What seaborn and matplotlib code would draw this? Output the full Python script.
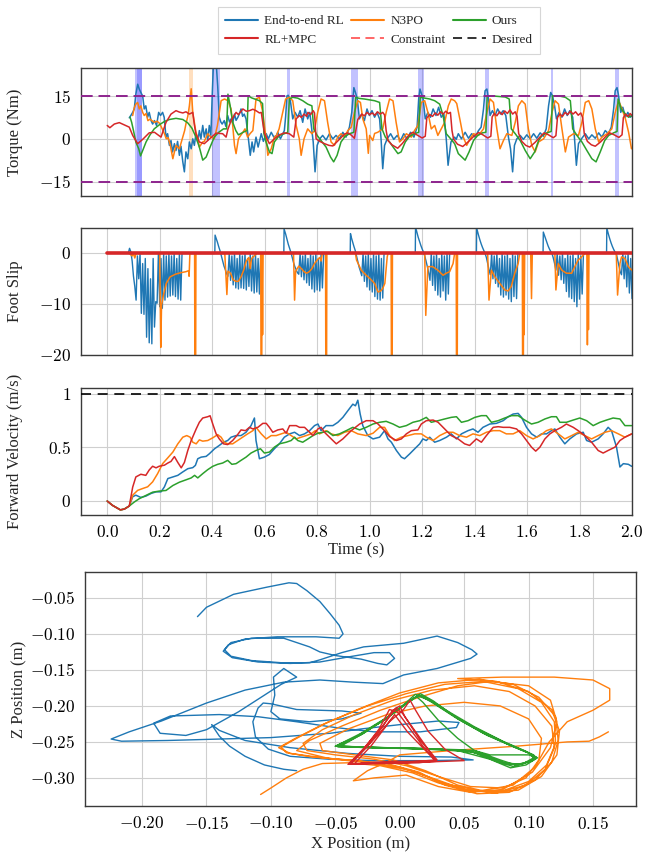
import numpy as np
import matplotlib
matplotlib.use("Agg")
import matplotlib.pyplot as plt
import seaborn as sns
from matplotlib.lines import Line2D
from matplotlib.ticker import FuncFormatter, FixedLocator

# ---------------------------------------------------------------- colours
C_E2E = "#1f77b4"
C_N3PO = "#ff7f0e"
C_OURS = "#2ca02c"
C_MPC = "#d62728"
C_LIMIT = "#8e248e"

series_names = ["End-to-end RL", "RL+MPC", "N3PO", "Constraint", "Ours", "Desired"]

# ---------------------------------------------------------------- torque (Nm) : (time s, torque)
torque_limit = 15.0

torque_e2e = [
    (0.084, 7.5), (0.09, 8.3), (0.097, 9.4), (0.103, 10.6), (0.109, 15.8), (0.116, 19.3), (0.122, 17.6),
    (0.128, 16.4), (0.135, 15.2), (0.141, 10.6), (0.147, 11.7), (0.154, 7.7), (0.16, 9.4), (0.167, 6.5),
    (0.173, 5.3), (0.18, 6.5), (0.188, 4.8), (0.196, 9.4), (0.203, 8.3), (0.211, 9.4), (0.217, 7.7),
    (0.224, 0.7), (0.23, 1.9), (0.237, -2.2), (0.243, -0.5), (0.249, -4.5), (0.256, -1.6), (0.262, -4.0),
    (0.268, -0.8), (0.275, -5.7), (0.281, -2.5), (0.288, -8.0), (0.294, -11.5), (0.30, -4.5), (0.307, -6.9),
    (0.313, -1.0), (0.32, -3.4), (0.326, 0.1), (0.332, -2.2), (0.338, 1.9), (0.345, -1.0), (0.351, 3.0),
    (0.357, 0.1), (0.364, 4.8), (0.37, 0.7), (0.377, 3.6), (0.383, -0.5), (0.389, 4.8), (0.395, 1.3),
    (0.40, 15.2), (0.405, 27.0), (0.415, 27.0), (0.421, 18.7), (0.427, 7.7), (0.433, 6.0), (0.438, 5.3),
    (0.446, 6.5), (0.452, 4.5), (0.459, 8.3), (0.466, 6.0), (0.472, 7.1), (0.478, 5.6), (0.485, 8.8),
    (0.491, 6.6), (0.498, 7.7), (0.504, 9.0), (0.51, 10.6), (0.516, 8.0), (0.522, 8.8), (0.529, 7.1),
    (0.538, 0.1), (0.545, -5.7), (0.552, -1.0), (0.558, -4.5), (0.567, 0.7), (0.575, -2.8), (0.587, 1.9),
    (0.595, -0.8), (0.606, 1.9), (0.614, 0.1), (0.625, 2.4), (0.635, 0.7), (0.645, 1.3), (0.65, 2.4),
    (0.66, 0.1), (0.675, 3.0), (0.68, 8.0), (0.685, 15.2), (0.69, 15.4), (0.698, 13.5), (0.707, 7.1),
    (0.716, 9.4), (0.726, 7.7), (0.735, 10.0), (0.745, 5.9), (0.754, 10.6), (0.764, 7.1), (0.772, 9.4),
    (0.78, 3.0), (0.785, -1.0), (0.792, -11.5), (0.80, -2.2), (0.81, 0.1), (0.821, 1.3), (0.834, -0.3),
    (0.847, 1.9), (0.86, 0.1), (0.872, 1.3), (0.885, 0.1), (0.898, 2.4), (0.91, 0.7), (0.923, 4.2),
    (0.932, 9.4), (0.94, 18.1), (0.946, 16.4), (0.953, 14.1), (0.961, 7.1), (0.97, 8.8), (0.98, 6.5),
    (0.99, 10.6), (0.999, 8.3), (1.009, 10.0), (1.019, 7.7), (1.028, 9.4), (1.038, 7.1), (1.044, -0.5),
    (1.05, -10.4), (1.057, -2.2), (1.067, 0.1), (1.08, 1.9), (1.092, -0.1), (1.105, 1.3), (1.118, -0.5),
    (1.13, 1.9), (1.143, 0.1), (1.156, 2.4), (1.169, 0.7), (1.181, 4.2), (1.187, 14.1), (1.192, 17.6),
    (1.198, 15.8), (1.204, 14.1), (1.212, 7.1), (1.222, 9.4), (1.232, 7.7), (1.242, 10.6), (1.253, 8.3),
    (1.263, 11.2), (1.273, 7.7), (1.283, 8.8), (1.292, 0.1), (1.299, -9.2), (1.31, -1.0), (1.324, 0.7),
    (1.33, -0.1), (1.338, 1.9), (1.35, 0.1), (1.364, 2.4), (1.377, 0.3), (1.389, 1.9), (1.402, 0.7),
    (1.415, 3.0), (1.425, 4.2), (1.434, 10.6), (1.44, 17.0), (1.447, 17.6), (1.453, 14.1), (1.459, 8.3),
    (1.468, 10.0), (1.478, 8.3), (1.488, 10.6), (1.499, 8.8), (1.509, 10.0), (1.519, 8.3), (1.529, 0.7),
    (1.537, -3.4), (1.545, -11.5), (1.552, -2.2), (1.561, 0.1), (1.574, 1.3), (1.586, -0.1), (1.599, 1.5),
    (1.612, 0.1), (1.625, 1.9), (1.637, 0.3), (1.65, 2.2), (1.662, 1.0), (1.673, 3.6), (1.682, 11.7),
    (1.69, 16.4), (1.697, 15.2), (1.705, 11.7), (1.712, 7.1), (1.722, 9.4), (1.733, 7.7), (1.743, 10.6),
    (1.753, 8.3), (1.763, 10.0), (1.774, 7.7), (1.781, 0.1), (1.788, -9.2), (1.796, -1.6), (1.809, 0.3),
    (1.822, 1.9), (1.835, 0.1), (1.847, 1.5), (1.86, 0.3), (1.873, 2.2), (1.885, 0.7), (1.898, 3.0),
    (1.91, 1.9), (1.921, 4.2), (1.93, 10.6), (1.936, 17.0), (1.943, 18.1), (1.949, 15.2), (1.957, 9.4),
    (1.965, 11.2), (1.975, 7.7), (1.984, 9.4), (1.994, 7.7), (2.0, 8.3),
]

torque_n3po = [
    (0.097, 8.3), (0.103, 11.0), (0.109, 12.3), (0.116, 12.9), (0.122, 10.6), (0.128, 11.7), (0.135, 9.4),
    (0.141, 8.3), (0.148, 9.0), (0.155, 6.5), (0.163, 7.0), (0.17, 6.5), (0.18, 5.9), (0.19, 6.3),
    (0.2, 5.5), (0.21, 3.5), (0.218, 1.9), (0.225, 0.1), (0.232, 0.5), (0.24, -2.0), (0.25, -6.9),
    (0.262, -2.2), (0.275, -3.4), (0.288, 0.7), (0.295, 3.0), (0.30, 5.4), (0.307, 8.0), (0.313, 11.7),
    (0.32, 17.7), (0.326, 9.4), (0.332, 5.9), (0.338, 2.4), (0.345, 0.5), (0.351, -2.8), (0.364, -1.0),
    (0.37, -0.8), (0.383, 1.9), (0.395, 0.7), (0.408, 0.1), (0.42, 4.8), (0.434, 13.5), (0.447, 14.1),
    (0.46, 13.5), (0.472, 10.6), (0.478, 5.0), (0.485, -2.2), (0.491, -5.1), (0.50, 0.1), (0.51, 1.5),
    (0.517, 2.4), (0.525, 3.6), (0.535, 0.7), (0.545, 2.0), (0.555, 3.0), (0.567, 14.1), (0.58, 14.7),
    (0.593, 9.4), (0.6, 4.0), (0.606, 0.1), (0.612, -5.7), (0.625, -3.4), (0.637, 0.7), (0.645, 1.3),
    (0.655, 3.6), (0.669, 9.4), (0.68, 14.1), (0.694, 14.7), (0.707, 13.5), (0.72, 4.8), (0.732, 0.1),
    (0.739, -5.7), (0.75, 0.1), (0.764, 3.6), (0.78, 1.9), (0.79, 3.0), (0.802, 9.4), (0.815, 14.1),
    (0.828, 13.5), (0.84, 5.9), (0.853, -1.0), (0.866, -2.2), (0.878, 0.7), (0.891, 1.9), (0.904, 0.7),
    (0.917, 3.0), (0.93, 4.2), (0.942, 9.4), (0.955, 13.5), (0.965, 12.9), (0.974, 7.1), (0.987, 3.6),
    (0.995, -5.0), (1.0, 1.3), (1.012, -0.5), (1.019, 2.0), (1.031, 2.4), (1.05, 3.6), (1.063, 9.4),
    (1.076, 14.1), (1.089, 13.5), (1.101, 5.9), (1.114, -1.0), (1.127, 0.1), (1.14, 1.9), (1.159, 0.7),
    (1.171, 3.0), (1.184, 4.8), (1.197, 12.9), (1.21, 13.5), (1.222, 9.4), (1.235, 3.6), (1.248, 4.8),
    (1.26, 1.3), (1.273, 3.6), (1.286, 5.9), (1.3, 11.7), (1.311, 14.1), (1.324, 13.5), (1.332, 12.5),
    (1.345, 6.5), (1.357, 0.7), (1.37, -2.2), (1.383, 0.1), (1.396, 1.9), (1.415, 1.3), (1.434, 3.6),
    (1.447, 9.4), (1.459, 14.1), (1.472, 12.9), (1.485, 3.6), (1.497, -3.4), (1.51, -0.5), (1.523, 1.9),
    (1.542, 1.3), (1.555, 5.9), (1.567, 11.7), (1.58, 13.5), (1.593, 12.3), (1.605, 3.6), (1.618, -2.2),
    (1.631, -4.5), (1.644, -1.0), (1.663, 0.1), (1.682, 3.0), (1.695, 9.4), (1.707, 13.5), (1.72, 12.3),
    (1.733, 3.6), (1.746, -4.5), (1.758, 0.7), (1.777, 1.9), (1.796, 1.3), (1.809, 5.9), (1.822, 12.9),
    (1.835, 13.5), (1.847, 10.6), (1.86, 3.6), (1.873, -1.0), (1.885, 0.7), (1.905, 1.9), (1.923, 3.6),
    (1.936, 9.4), (1.949, 13.5), (1.962, 10.6), (1.975, 7.1), (1.987, 2.4), (1.998, -3.4),
]

torque_ours = [
    (0.087, 7.7), (0.093, 5.9), (0.1, 3.0), (0.109, -1.0), (0.12, -3.4), (0.127, -5.9), (0.135, -4.0),
    (0.148, -1.0), (0.163, 1.5), (0.179, 3.6), (0.198, 5.0), (0.218, 6.2), (0.237, 6.9), (0.262, 7.3),
    (0.288, 6.9), (0.307, 5.7), (0.323, 3.8), (0.338, 0.7), (0.351, -2.8), (0.364, -7.4), (0.377, -6.3),
    (0.392, -2.8), (0.408, 0.7), (0.425, 2.4), (0.443, 3.6), (0.455, 3.6), (0.46, 15.8), (0.468, 12.0),
    (0.478, 6.0), (0.49, 3.0), (0.50, 1.5), (0.52, 2.5), (0.533, 3.0), (0.537, 15.2), (0.55, 14.5),
    (0.565, 14.0), (0.58, 13.5), (0.592, 12.5), (0.597, 2.0), (0.605, -1.0), (0.618, -4.5), (0.628, -5.1),
    (0.637, -1.0), (0.656, 1.3), (0.675, 1.9), (0.688, 2.4), (0.694, 14.1), (0.707, 14.7), (0.726, 14.4),
    (0.745, 13.5), (0.764, 12.3), (0.78, 11.7), (0.787, 3.6), (0.80, 1.3), (0.815, -0.5), (0.834, -2.8),
    (0.851, -6.3), (0.863, -8.0), (0.876, -5.7), (0.891, -1.0), (0.907, 1.0), (0.923, 1.9), (0.94, 2.4),
    (0.947, 14.7), (0.961, 14.3), (0.98, 14.1), (0.999, 13.8), (1.019, 13.5), (1.038, 12.9), (1.047, 3.6),
    (1.06, 0.7), (1.076, -1.0), (1.092, -3.1), (1.108, -5.1), (1.12, -4.5), (1.136, -1.0), (1.152, 1.0),
    (1.171, 1.9), (1.187, 2.4), (1.193, 14.7), (1.21, 14.4), (1.229, 14.1), (1.248, 13.5), (1.267, 12.3),
    (1.28, 8.3), (1.292, 1.9), (1.309, 0.1), (1.324, -1.6), (1.338, -5.1), (1.364, -7.4), (1.379, -4.5),
    (1.396, -0.5), (1.412, 1.3), (1.43, 2.2), (1.443, 2.4), (1.448, 15.0), (1.466, 15.2), (1.491, 15.0),
    (1.517, 14.8), (1.532, 14.1), (1.54, 3.6), (1.555, 1.9), (1.574, -0.5), (1.593, -4.0), (1.612, -6.9),
    (1.629, -4.5), (1.644, -0.5), (1.659, 1.5), (1.676, 2.2), (1.692, 2.7), (1.697, 15.2), (1.72, 15.2),
    (1.746, 14.7), (1.765, 13.5), (1.774, 3.6), (1.79, 1.3), (1.809, -1.0), (1.828, -4.0), (1.847, -6.9),
    (1.863, -8.0), (1.879, -4.5), (1.896, -0.5), (1.911, 1.3), (1.93, 2.2), (1.943, 2.7), (1.947, 14.1),
    (1.959, 10.6), (1.975, 8.8), (1.987, 7.7), (2.0, 8.3),
]

torque_mpc = [
    (0.0, 4.8), (0.01, 4.0), (0.027, 5.3), (0.046, 5.8), (0.065, 5.0), (0.084, 4.2), (0.097, 1.3),
    (0.116, -1.6), (0.135, -0.1), (0.16, 2.2), (0.18, 2.4), (0.205, 0.7), (0.215, 3.5), (0.224, 5.9),
    (0.243, 8.8), (0.262, 10.0), (0.275, 9.5), (0.288, 9.2), (0.30, 9.6), (0.313, 8.8), (0.326, 9.4),
    (0.332, 5.0), (0.338, 1.9), (0.351, -1.0), (0.37, -1.6), (0.39, 0.1), (0.415, 2.1), (0.44, 1.9),
    (0.453, 0.7), (0.46, 3.5), (0.472, 6.5), (0.491, 9.4), (0.50, 8.6), (0.517, 10.6), (0.53, 9.8),
    (0.542, 10.0), (0.555, 10.5), (0.567, 10.0), (0.58, 9.2), (0.587, 9.4), (0.594, 5.0), (0.60, 1.9),
    (0.618, -1.6), (0.637, 0.1), (0.656, 1.5), (0.675, 2.2), (0.694, 1.9), (0.711, 0.7), (0.72, 7.1),
    (0.732, 8.3), (0.74, 7.6), (0.75, 8.8), (0.76, 8.0), (0.765, 9.4), (0.775, 8.6), (0.785, 10.0),
    (0.79, 9.2), (0.796, 0.1), (0.81, -0.8), (0.828, -1.6), (0.845, -2.2), (0.86, -2.4), (0.875, -1.0),
    (0.89, 0.4), (0.905, 1.8), (0.917, 2.2), (0.93, 1.4), (0.942, 0.3), (0.955, 6.9), (0.962, 7.8),
    (0.97, 8.8), (0.98, 8.2), (0.99, 9.4), (1.0, 8.6), (1.01, 9.2), (1.02, 8.4), (1.03, 9.6),
    (1.04, 8.8), (1.05, 9.4), (1.057, 8.5), (1.063, 3.0), (1.07, -0.5), (1.085, -2.0), (1.107, -3.2),
    (1.125, -1.5), (1.14, 0.3), (1.155, 1.8), (1.165, 2.4), (1.18, 1.5), (1.2, 0.4), (1.212, 1.0),
    (1.218, 7.5), (1.23, 8.6), (1.24, 8.0), (1.25, 9.2), (1.26, 8.4), (1.27, 9.6), (1.28, 8.8),
    (1.29, 9.8), (1.30, 9.0), (1.308, 9.4), (1.314, 3.0), (1.32, 0.0), (1.335, -1.8), (1.355, -2.6),
    (1.375, -1.0), (1.395, 0.8), (1.415, 2.3), (1.43, 1.6), (1.45, 0.4), (1.462, 1.0), (1.467, 7.8),
    (1.475, 9.0), (1.485, 8.2), (1.495, 9.6), (1.505, 8.6), (1.515, 9.9), (1.525, 9.0), (1.535, 10.3),
    (1.545, 8.8), (1.555, 9.6), (1.562, 8.0), (1.568, 2.0), (1.58, -0.8), (1.595, -2.2), (1.61, -2.8),
    (1.63, -1.2), (1.65, 0.8), (1.665, 2.2), (1.68, 1.6), (1.70, 0.5), (1.71, 1.2), (1.716, 7.6),
    (1.725, 8.8), (1.735, 8.0), (1.745, 9.4), (1.755, 8.6), (1.765, 9.8), (1.775, 8.8), (1.785, 9.6),
    (1.795, 8.4), (1.805, 9.2), (1.812, 7.5), (1.818, 2.0), (1.83, -0.8), (1.845, -2.0), (1.86, -2.5),
    (1.88, -1.0), (1.9, 0.9), (1.915, 2.2), (1.93, 1.6), (1.95, 0.6), (1.962, 1.5), (1.967, 7.5),
    (1.975, 8.8), (1.985, 8.0), (1.993, 9.0), (2.0, 8.3),
]

# time windows where a torque exceeds the limit
e2e_over_limit = [(0.104, 0.134), (0.112, 0.133), (0.400, 0.428), (0.686, 0.695), (0.930, 0.955),
                  (1.183, 1.206), (1.440, 1.454), (1.690, 1.700), (1.935, 1.950)]
n3po_over_limit = [(0.313, 0.325)]

# ---------------------------------------------------------------- foot slip : (time s, slip)
slip_e2e = [
    (0.080, 0.0), (0.085, 1.0), (0.09, 0.3), (0.095, -1.5), (0.1, -4.5), (0.105, -6.5), (0.11, -9.2),
    (0.115, -0.5), (0.12, -5.0), (0.125, 0.0), (0.13, -11.8), (0.135, -2.0), (0.14, -12.0), (0.145, -1.0),
    (0.15, -16.5), (0.155, -3.0), (0.16, -17.6), (0.165, -5.0), (0.17, -17.8), (0.175, -1.0), (0.18, -14.5),
    (0.185, -9.5), (0.19, -9.8), (0.195, 0.0), (0.2, -10.5), (0.205, -1.0), (0.21, -10.8), (0.215, 0.0),
    (0.22, -9.2), (0.225, -0.5), (0.23, -8.6), (0.235, 0.0), (0.24, -8.4), (0.245, -0.5), (0.25, -8.2),
    (0.255, 0.0), (0.26, -8.5), (0.265, -1.0), (0.27, -9.0), (0.275, 0.0), (0.28, -9.2), (0.285, 0.0),
    (0.41, 0.0), (0.411, 3.6), (0.415, 3.0), (0.42, 2.2), (0.425, 1.3), (0.43, 0.5), (0.435, -0.5),
    (0.44, -1.5), (0.445, -2.5), (0.45, -3.2), (0.455, -4.0), (0.46, -4.5), (0.465, 0.0), (0.47, -5.3),
    (0.475, -0.5), (0.48, -6.2), (0.485, 0.0), (0.49, -6.8), (0.495, -1.0), (0.5, -7.0), (0.505, 0.0),
    (0.51, -6.8), (0.515, -0.5), (0.52, -6.9), (0.525, 0.0), (0.53, -7.2), (0.535, -1.0), (0.54, -6.5),
    (0.545, 0.0), (0.55, -7.4), (0.555, -0.5), (0.56, -7.8), (0.565, 0.0), (0.57, -7.6), (0.575, -1.0),
    (0.58, -8.0), (0.585, 0.0),
    (0.673, 0.0), (0.674, 4.8), (0.68, 3.8), (0.685, 2.8), (0.69, 1.8), (0.695, 1.0), (0.7, 0.2),
    (0.705, -0.8), (0.71, -1.8), (0.715, -2.6), (0.72, -3.2), (0.725, -3.8), (0.73, -4.1), (0.735, 0.0),
    (0.74, -4.6), (0.745, -0.5), (0.75, -5.2), (0.755, 0.0), (0.76, -5.8), (0.765, -1.0), (0.77, -6.3),
    (0.775, 0.0), (0.78, -7.0), (0.785, -0.5), (0.79, -7.6), (0.795, 0.0), (0.8, -7.2), (0.805, -1.0),
    (0.81, -7.4), (0.815, 0.0), (0.82, -6.8), (0.825, 0.0),
    (0.926, 0.0), (0.927, 3.9), (0.93, 3.2), (0.935, 2.3), (0.94, 1.4), (0.945, 0.6), (0.95, -0.5),
    (0.955, -1.6), (0.96, -2.7), (0.965, -3.5), (0.97, -4.4), (0.975, 0.0), (0.98, -5.5), (0.985, -0.5),
    (0.99, -6.6), (0.995, 0.0), (1.0, -7.2), (1.005, -1.0), (1.01, -7.6), (1.015, 0.0), (1.02, -8.5),
    (1.025, -0.5), (1.03, -9.0), (1.035, 0.0), (1.04, -9.2), (1.045, -1.0), (1.05, -8.8), (1.055, 0.0),
    (1.174, 0.0), (1.175, 5.2), (1.18, 4.2), (1.185, 3.2), (1.19, 2.4), (1.195, 1.6), (1.2, 0.9),
    (1.205, 0.3), (1.21, -0.5), (1.215, -1.5), (1.22, -2.6), (1.225, -3.8), (1.23, -5.3), (1.235, 0.0),
    (1.24, -6.3), (1.245, -0.5), (1.25, -7.3), (1.255, 0.0), (1.26, -8.2), (1.265, -1.0), (1.27, -8.6),
    (1.275, 0.0), (1.28, -7.4), (1.285, -0.5), (1.29, -9.2), (1.295, 0.0), (1.3, -8.0), (1.305, 0.0),
    (1.407, 0.0), (1.408, 5.0), (1.415, 3.6), (1.42, 2.7), (1.425, 1.9), (1.43, 1.2), (1.435, 0.6),
    (1.44, 0.0), (1.445, -0.8), (1.45, -2.0), (1.455, -3.2), (1.46, -4.2), (1.465, 0.0), (1.47, -5.0),
    (1.475, -0.5), (1.48, -5.9), (1.485, 0.0), (1.49, -6.6), (1.495, -1.0), (1.5, -8.2), (1.505, 0.0),
    (1.51, -8.6), (1.515, -0.5), (1.52, -8.2), (1.525, 0.0), (1.53, -9.0), (1.535, -1.0), (1.54, -9.5),
    (1.545, 0.0), (1.55, -8.5), (1.555, -0.5), (1.56, -8.9), (1.565, 0.0),
    (1.661, 0.0), (1.662, 4.2), (1.67, 3.0), (1.675, 2.2), (1.68, 1.5), (1.685, 0.9), (1.69, 0.4),
    (1.695, 0.0), (1.7, -0.9), (1.705, -2.0), (1.71, -3.3), (1.715, 0.0), (1.72, -4.3), (1.725, -0.5),
    (1.73, -5.2), (1.735, 0.0), (1.74, -5.9), (1.745, -1.0), (1.75, -7.5), (1.755, 0.0), (1.76, -8.6),
    (1.765, -0.5), (1.77, -8.9), (1.775, 0.0), (1.78, -9.5), (1.785, -1.0), (1.79, -10.5), (1.795, 0.0),
    (1.8, -9.0), (1.805, -0.5), (1.81, -8.0), (1.815, 0.0),
    (1.903, 0.0), (1.904, 5.0), (1.91, 3.8), (1.915, 2.9), (1.92, 2.1), (1.925, 1.4), (1.93, 0.8),
    (1.935, 0.3), (1.94, 0.0), (1.945, -1.2), (1.95, -2.5), (1.955, -3.6), (1.96, -4.2), (1.965, 0.0),
    (1.97, -5.0), (1.975, -0.5), (1.98, -6.6), (1.985, 0.0), (1.99, -7.8), (1.995, -1.0), (2.0, -8.9),
]

slip_n3po = [
    (0.084, 0.0), (0.095, -0.5), (0.1, 0.0), (0.105, -0.9), (0.11, 0.0), (0.2, 0.0), (0.204, -18.5),
    (0.207, -10.2), (0.215, -8.0), (0.225, -5.9), (0.24, -4.6), (0.26, -4.1), (0.28, -3.8), (0.30, -3.6),
    (0.31, -3.4), (0.312, -4.5), (0.315, 0.0), (0.333, 0.0), (0.334, -22.0), (0.337, -22.0), (0.338, 0.0),
    (0.448, 0.0), (0.456, -8.1), (0.46, -3.5), (0.47, -3.9), (0.48, -5.2), (0.49, -5.5), (0.5, -5.5),
    (0.51, -4.6), (0.52, -3.3), (0.53, -1.5), (0.54, -0.8), (0.545, -3.0), (0.55, -1.0), (0.56, -0.5),
    (0.57, 0.0), (0.585, 0.0), (0.586, -21.0), (0.589, -21.0), (0.59, 0.0), (0.592, -16.0), (0.594, 0.0),
    (0.71, 0.0), (0.714, -9.2), (0.718, -3.5), (0.73, -2.5), (0.74, -3.0), (0.75, -3.6), (0.76, -3.9),
    (0.77, -3.6), (0.78, -3.0), (0.79, -2.0), (0.8, -1.3), (0.81, -0.8), (0.815, -1.5), (0.82, 0.0),
    (0.832, 0.0), (0.833, -22.0), (0.836, -22.0), (0.837, 0.0),
    (0.946, 0.0), (0.95, -1.3), (0.968, -3.3), (0.987, -4.3), (1.0, -4.9), (1.019, -5.9), (1.032, -7.6),
    (1.042, -7.4), (1.05, -6.9), (1.058, -5.9), (1.067, -0.7), (1.07, 0.0), (1.082, 0.0), (1.083, -22.0),
    (1.086, -22.0), (1.087, 0.0),
    (1.21, 0.0), (1.214, -12.2), (1.222, -2.6), (1.24, -2.6), (1.26, -3.3), (1.28, -4.3), (1.292, -3.9),
    (1.305, -3.6), (1.318, -2.0), (1.324, 0.0), (1.33, 0.0), (1.331, -22.0), (1.334, -22.0), (1.335, 0.0),
    (1.45, 0.0), (1.455, -9.2), (1.464, -3.3), (1.477, -4.6), (1.496, -5.9), (1.515, -7.2), (1.528, -7.4),
    (1.54, -6.5), (1.553, -3.9), (1.566, -2.0), (1.572, 0.0), (1.582, 0.0), (1.583, -22.0), (1.586, -22.0),
    (1.587, 0.0), (1.589, -16.0), (1.591, 0.0), (1.614, 0.0), (1.617, -8.9), (1.62, 0.0),
    (1.706, 0.0), (1.71, -7.2), (1.719, -2.0), (1.732, -3.3), (1.75, -3.9), (1.77, -3.9), (1.782, -2.6),
    (1.795, -1.3), (1.808, -0.7), (1.82, 0.0), (1.828, 0.0), (1.83, -18.0), (1.832, 0.0), (1.834, -15.0),
    (1.836, 0.0),
    (1.94, 0.0), (1.945, -8.2), (1.954, -2.0), (1.96, -0.7), (1.973, -1.0), (1.986, -2.6), (1.999, -3.3),
]

slip_mpc = [(0.0, 0.0), (2.0, 0.0)]

# ---------------------------------------------------------------- forward velocity (m/s)
desired_velocity = 1.0

vel_start = [(0.0, 0.0), (0.02, -0.04), (0.05, -0.082), (0.065, -0.075), (0.084, -0.046)]

vel_e2e = [
    (0.097, 0.04), (0.109, 0.055), (0.128, 0.034), (0.147, 0.046), (0.167, 0.071), (0.186, 0.086),
    (0.205, 0.086), (0.218, 0.133), (0.231, 0.21), (0.25, 0.225), (0.269, 0.24), (0.288, 0.272),
    (0.307, 0.302), (0.326, 0.312), (0.336, 0.333), (0.345, 0.395), (0.358, 0.41), (0.377, 0.417),
    (0.389, 0.441), (0.409, 0.488), (0.427, 0.519), (0.443, 0.549), (0.459, 0.565), (0.472, 0.596),
    (0.491, 0.611), (0.51, 0.611), (0.529, 0.642), (0.548, 0.704), (0.561, 0.775), (0.567, 0.565),
    (0.58, 0.395), (0.599, 0.41), (0.618, 0.435), (0.637, 0.488), (0.656, 0.534), (0.675, 0.596),
    (0.695, 0.627), (0.714, 0.642), (0.733, 0.611), (0.752, 0.627), (0.771, 0.657), (0.79, 0.704),
    (0.803, 0.719), (0.815, 0.657), (0.834, 0.704), (0.86, 0.704), (0.879, 0.735), (0.898, 0.781),
    (0.917, 0.843), (0.936, 0.904), (0.946, 0.889), (0.955, 0.941), (0.964, 0.812), (0.974, 0.704),
    (0.993, 0.611), (1.013, 0.58), (1.038, 0.596), (1.057, 0.657), (1.07, 0.58), (1.083, 0.549),
    (1.102, 0.472), (1.121, 0.41), (1.133, 0.395), (1.153, 0.441), (1.172, 0.488), (1.191, 0.534),
    (1.203, 0.58), (1.216, 0.565), (1.229, 0.596), (1.248, 0.549), (1.267, 0.565), (1.293, 0.596),
    (1.311, 0.627), (1.331, 0.58), (1.35, 0.627), (1.375, 0.657), (1.394, 0.673), (1.413, 0.642),
    (1.432, 0.688), (1.458, 0.719), (1.483, 0.725), (1.509, 0.75), (1.528, 0.787), (1.547, 0.812),
    (1.566, 0.818), (1.579, 0.781), (1.598, 0.688), (1.617, 0.627), (1.637, 0.596), (1.655, 0.627),
    (1.674, 0.627), (1.693, 0.657), (1.706, 0.673), (1.725, 0.596), (1.744, 0.534), (1.763, 0.58),
    (1.789, 0.627), (1.814, 0.642), (1.827, 0.565), (1.846, 0.549), (1.871, 0.58), (1.89, 0.627),
    (1.909, 0.688), (1.922, 0.657), (1.941, 0.503), (1.954, 0.318), (1.967, 0.349), (1.986, 0.343),
    (1.999, 0.324),
]

vel_n3po = [
    (0.097, 0.055), (0.116, 0.1), (0.135, 0.117), (0.154, 0.133), (0.173, 0.179), (0.192, 0.256),
    (0.211, 0.349), (0.231, 0.404), (0.25, 0.457), (0.269, 0.534), (0.288, 0.596), (0.303, 0.611),
    (0.316, 0.596), (0.326, 0.549), (0.339, 0.534), (0.351, 0.571), (0.364, 0.559), (0.383, 0.565),
    (0.402, 0.59), (0.421, 0.62), (0.434, 0.596), (0.446, 0.549), (0.459, 0.534), (0.478, 0.534),
    (0.497, 0.565), (0.516, 0.596), (0.535, 0.627), (0.555, 0.657), (0.567, 0.688), (0.587, 0.627),
    (0.606, 0.58), (0.625, 0.611), (0.644, 0.611), (0.663, 0.627), (0.682, 0.642), (0.701, 0.611),
    (0.72, 0.58), (0.739, 0.596), (0.758, 0.611), (0.777, 0.627), (0.793, 0.657), (0.809, 0.627),
    (0.834, 0.657), (0.853, 0.627), (0.879, 0.611), (0.904, 0.642), (0.93, 0.657), (0.955, 0.627),
    (0.987, 0.611), (1.013, 0.633), (1.038, 0.688), (1.057, 0.688), (1.076, 0.611), (1.095, 0.565),
    (1.121, 0.596), (1.146, 0.611), (1.172, 0.627), (1.197, 0.627), (1.216, 0.596), (1.242, 0.565),
    (1.267, 0.611), (1.293, 0.642), (1.318, 0.642), (1.343, 0.611), (1.369, 0.596), (1.394, 0.627),
    (1.42, 0.611), (1.445, 0.642), (1.471, 0.657), (1.496, 0.657), (1.521, 0.627), (1.547, 0.627),
    (1.572, 0.657), (1.598, 0.611), (1.623, 0.58), (1.649, 0.611), (1.674, 0.657), (1.693, 0.673),
    (1.719, 0.627), (1.744, 0.58), (1.77, 0.611), (1.795, 0.642), (1.82, 0.611), (1.846, 0.58),
    (1.871, 0.611), (1.897, 0.642), (1.922, 0.657), (1.948, 0.627), (1.973, 0.596), (1.999, 0.627),
]

vel_ours = [
    (0.103, -0.009), (0.122, 0.022), (0.147, 0.052), (0.173, 0.083), (0.198, 0.093), (0.224, 0.099),
    (0.25, 0.145), (0.275, 0.176), (0.3, 0.198), (0.32, 0.216), (0.333, 0.24), (0.345, 0.216),
    (0.364, 0.256), (0.383, 0.293), (0.402, 0.324), (0.421, 0.343), (0.44, 0.355), (0.459, 0.38),
    (0.475, 0.343), (0.491, 0.349), (0.51, 0.38), (0.529, 0.41), (0.548, 0.448), (0.567, 0.472),
    (0.584, 0.488), (0.599, 0.448), (0.618, 0.457), (0.637, 0.503), (0.656, 0.534), (0.682, 0.549),
    (0.701, 0.565), (0.714, 0.596), (0.726, 0.565), (0.745, 0.549), (0.765, 0.58), (0.784, 0.611),
    (0.803, 0.633), (0.822, 0.642), (0.84, 0.651), (0.86, 0.611), (0.885, 0.627), (0.911, 0.657),
    (0.936, 0.688), (0.962, 0.664), (0.987, 0.688), (1.013, 0.719), (1.038, 0.735), (1.063, 0.744),
    (1.089, 0.719), (1.114, 0.688), (1.14, 0.704), (1.165, 0.735), (1.191, 0.75), (1.216, 0.781),
    (1.235, 0.735), (1.261, 0.75), (1.286, 0.766), (1.311, 0.781), (1.331, 0.787), (1.35, 0.735),
    (1.375, 0.75), (1.401, 0.781), (1.426, 0.797), (1.445, 0.797), (1.464, 0.735), (1.49, 0.75),
    (1.515, 0.775), (1.541, 0.797), (1.566, 0.797), (1.591, 0.756), (1.617, 0.719), (1.642, 0.735),
    (1.668, 0.766), (1.693, 0.787), (1.712, 0.787), (1.725, 0.735), (1.75, 0.735), (1.776, 0.756),
    (1.801, 0.775), (1.827, 0.75), (1.852, 0.704), (1.878, 0.735), (1.903, 0.756), (1.928, 0.775),
    (1.954, 0.766), (1.973, 0.704), (1.999, 0.704),
]

vel_mpc = [
    (0.097, 0.13), (0.109, 0.225), (0.128, 0.25), (0.147, 0.24), (0.16, 0.29), (0.173, 0.325),
    (0.186, 0.31), (0.198, 0.325), (0.218, 0.335), (0.231, 0.355), (0.243, 0.37), (0.256, 0.415),
    (0.269, 0.36), (0.282, 0.31), (0.294, 0.36), (0.307, 0.472), (0.32, 0.565), (0.339, 0.673),
    (0.351, 0.735), (0.364, 0.775), (0.383, 0.787), (0.392, 0.796), (0.402, 0.72), (0.415, 0.627),
    (0.427, 0.58), (0.443, 0.534), (0.459, 0.527), (0.478, 0.565), (0.497, 0.62), (0.51, 0.664),
    (0.527, 0.657), (0.542, 0.688), (0.555, 0.673), (0.574, 0.688), (0.593, 0.725), (0.606, 0.725),
    (0.618, 0.688), (0.631, 0.642), (0.65, 0.664), (0.669, 0.673), (0.682, 0.633), (0.695, 0.704),
    (0.72, 0.704), (0.733, 0.688), (0.752, 0.688), (0.765, 0.657), (0.784, 0.611), (0.803, 0.673),
    (0.815, 0.688), (0.828, 0.642), (0.847, 0.596), (0.873, 0.534), (0.898, 0.58), (0.93, 0.657),
    (0.962, 0.719), (0.987, 0.75), (1.013, 0.75), (1.032, 0.719), (1.057, 0.657), (1.076, 0.602),
    (1.102, 0.565), (1.121, 0.58), (1.14, 0.627), (1.159, 0.657), (1.184, 0.664), (1.197, 0.719),
    (1.216, 0.75), (1.242, 0.756), (1.261, 0.735), (1.286, 0.673), (1.311, 0.611), (1.337, 0.58),
    (1.362, 0.534), (1.381, 0.519), (1.407, 0.58), (1.426, 0.549), (1.445, 0.611), (1.471, 0.688),
    (1.49, 0.694), (1.509, 0.688), (1.534, 0.688), (1.56, 0.673), (1.579, 0.627), (1.598, 0.565),
    (1.617, 0.503), (1.633, 0.466), (1.649, 0.503), (1.668, 0.58), (1.687, 0.627), (1.706, 0.657),
    (1.731, 0.688), (1.75, 0.719), (1.776, 0.688), (1.795, 0.657), (1.82, 0.611), (1.846, 0.549),
    (1.871, 0.472), (1.89, 0.448), (1.909, 0.472), (1.935, 0.503), (1.954, 0.565), (1.973, 0.596),
    (1.999, 0.627),
]

# ---------------------------------------------------------------- foot trajectory (X m, Z m)
xz_e2e = [
    (-0.157, -0.076), (-0.150, -0.063), (-0.129, -0.045), (-0.103, -0.035), (-0.086, -0.029),
    (-0.080, -0.030), (-0.072, -0.040), (-0.062, -0.055), (-0.054, -0.072), (-0.047, -0.088),
    (-0.044, -0.100), (-0.047, -0.106), (-0.065, -0.104), (-0.095, -0.104), (-0.120, -0.107),
    (-0.133, -0.115), (-0.137, -0.124), (-0.130, -0.133), (-0.110, -0.139), (-0.085, -0.141),
    (-0.062, -0.139), (-0.040, -0.132), (-0.020, -0.126), (-0.008, -0.126), (-0.004, -0.134),
    (-0.010, -0.143), (-0.017, -0.141), (-0.030, -0.135), (-0.050, -0.130), (-0.062, -0.125),
    (-0.070, -0.118), (-0.090, -0.106), (-0.115, -0.106), (-0.131, -0.112), (-0.136, -0.122),
    (-0.131, -0.131), (-0.115, -0.137), (-0.092, -0.140), (-0.070, -0.140), (-0.062, -0.136),
    (-0.045, -0.126), (-0.028, -0.118), (0.003, -0.113), (0.029, -0.103), (0.045, -0.112),
    (0.056, -0.122), (0.060, -0.128), (0.055, -0.134), (0.042, -0.141), (0.029, -0.148),
    (0.003, -0.157), (-0.013, -0.169), (-0.036, -0.167), (-0.062, -0.164), (-0.090, -0.167),
    (-0.120, -0.178), (-0.150, -0.196), (-0.185, -0.221), (-0.210, -0.236), (-0.224, -0.246),
    (-0.216, -0.249), (-0.180, -0.248), (-0.140, -0.246), (-0.100, -0.244), (-0.070, -0.240),
    (-0.054, -0.238), (-0.030, -0.232), (0.000, -0.226), (0.030, -0.221), (0.046, -0.223),
    (0.044, -0.230), (0.016, -0.236), (-0.020, -0.236), (-0.050, -0.230), (-0.080, -0.222),
    (-0.110, -0.215), (-0.140, -0.212), (-0.178, -0.214), (-0.191, -0.224), (-0.186, -0.238),
    (-0.166, -0.241), (-0.150, -0.233), (-0.125, -0.208), (-0.105, -0.185), (-0.092, -0.170),
    (-0.080, -0.160), (-0.090, -0.148), (-0.098, -0.160), (-0.097, -0.185), (-0.100, -0.208),
    (-0.093, -0.218), (-0.070, -0.222), (-0.045, -0.218), (-0.030, -0.210), (-0.045, -0.207),
    (-0.080, -0.205), (-0.100, -0.197), (-0.106, -0.196), (-0.110, -0.203), (-0.114, -0.222),
    (-0.112, -0.243), (-0.102, -0.260), (-0.085, -0.270), (-0.055, -0.274), (-0.020, -0.276),
    (0.020, -0.276), (0.057, -0.275), (0.040, -0.271), (0.000, -0.270), (-0.040, -0.266),
    (-0.085, -0.258), (-0.120, -0.248), (-0.140, -0.234), (-0.146, -0.226), (-0.140, -0.242),
    (-0.132, -0.256), (-0.120, -0.270), (-0.105, -0.282), (-0.090, -0.288), (-0.080, -0.290),
]

xz_n3po = [
    (-0.108, -0.323), (-0.100, -0.314), (-0.088, -0.300), (-0.075, -0.288), (-0.060, -0.280),
    (-0.040, -0.279), (-0.015, -0.283), (0.010, -0.293), (0.030, -0.307), (0.055, -0.318),
    (0.080, -0.318), (0.100, -0.305), (0.114, -0.282), (0.121, -0.252), (0.120, -0.222),
    (0.110, -0.195), (0.092, -0.176), (0.065, -0.166), (0.035, -0.170), (0.005, -0.183),
    (-0.025, -0.200), (-0.055, -0.222), (-0.078, -0.243), (-0.092, -0.257), (-0.088, -0.265),
    (-0.068, -0.271), (-0.040, -0.275), (-0.010, -0.280), (0.015, -0.292), (0.035, -0.310),
    (0.060, -0.322), (0.085, -0.320), (0.105, -0.303), (0.118, -0.278), (0.123, -0.248),
    (0.121, -0.215), (0.108, -0.188), (0.088, -0.170), (0.062, -0.163), (0.030, -0.168),
    (0.000, -0.182), (-0.030, -0.203), (-0.060, -0.226), (-0.082, -0.246), (-0.094, -0.258),
    (-0.085, -0.266), (-0.060, -0.272), (-0.030, -0.277), (0.000, -0.285), (0.025, -0.300),
    (0.050, -0.316), (0.075, -0.321), (0.098, -0.310), (0.113, -0.288), (0.120, -0.258),
    (0.118, -0.228), (0.105, -0.200), (0.085, -0.180), (0.058, -0.172), (0.025, -0.178),
    (-0.005, -0.192), (-0.035, -0.212), (-0.060, -0.233), (-0.075, -0.252), (-0.072, -0.262),
    (-0.050, -0.268), (-0.020, -0.274), (0.005, -0.283), (0.030, -0.298), (0.055, -0.312),
    (0.080, -0.314), (0.098, -0.300), (0.108, -0.275), (0.110, -0.245), (0.100, -0.218),
    (0.078, -0.200), (0.050, -0.195), (0.020, -0.200), (-0.010, -0.212), (-0.040, -0.232),
    (-0.062, -0.252), (-0.060, -0.262), (-0.035, -0.268), (-0.005, -0.275), (0.020, -0.290),
    (0.045, -0.310), (0.070, -0.320), (0.092, -0.317), (0.110, -0.298), (0.122, -0.268),
    (0.124, -0.235), (0.118, -0.205), (0.100, -0.180), (0.075, -0.166), (0.045, -0.162),
    (0.080, -0.160), (0.120, -0.160), (0.150, -0.164), (0.163, -0.176), (0.163, -0.192),
    (0.150, -0.206), (0.130, -0.222), (0.116, -0.250), (0.105, -0.285), (0.088, -0.310),
    (0.062, -0.318), (0.035, -0.308), (0.010, -0.290), (-0.020, -0.280), (-0.055, -0.273),
    (-0.080, -0.262), (-0.070, -0.248), (-0.045, -0.228), (-0.015, -0.206), (0.015, -0.188),
    (0.045, -0.172), (0.070, -0.166), (0.100, -0.172), (0.117, -0.192), (0.122, -0.222),
    (0.117, -0.258), (0.103, -0.292), (0.080, -0.316), (0.055, -0.320), (0.030, -0.312),
    (0.005, -0.296), (-0.020, -0.300), (-0.036, -0.304), (-0.025, -0.290), (-0.010, -0.278),
    (0.000, -0.268), (0.040, -0.262), (0.090, -0.256), (0.130, -0.250), (0.147, -0.249),
    (0.155, -0.243), (0.162, -0.236),
]

xz_ours = [
    (-0.050, -0.256), (-0.030, -0.238), (-0.010, -0.216), (0.004, -0.197), (0.012, -0.184),
    (0.020, -0.188), (0.038, -0.208), (0.058, -0.229), (0.080, -0.249), (0.098, -0.263),
    (0.106, -0.271), (0.100, -0.278), (0.088, -0.284), (0.075, -0.277), (0.055, -0.263),
    (0.020, -0.259), (-0.015, -0.258), (-0.048, -0.257), (-0.032, -0.241), (-0.012, -0.219),
    (0.003, -0.199), (0.014, -0.186), (0.023, -0.192), (0.042, -0.214), (0.062, -0.234),
    (0.083, -0.252), (0.100, -0.265), (0.104, -0.272), (0.096, -0.280), (0.084, -0.281),
    (0.068, -0.270), (0.050, -0.261), (0.010, -0.259), (-0.025, -0.258), (-0.050, -0.256),
    (-0.034, -0.243), (-0.014, -0.222), (0.002, -0.201), (0.015, -0.185), (0.025, -0.195),
    (0.044, -0.217), (0.065, -0.238), (0.086, -0.255), (0.102, -0.267), (0.105, -0.274),
    (0.094, -0.281), (0.080, -0.279), (0.060, -0.265), (0.030, -0.260), (-0.010, -0.258),
    (-0.046, -0.256), (-0.028, -0.238), (-0.008, -0.214), (0.006, -0.195), (0.013, -0.187),
    (0.018, -0.195), (0.030, -0.220), (0.045, -0.245), (0.058, -0.262), (0.070, -0.268),
    (0.100, -0.268), (0.107, -0.272), (0.098, -0.282), (0.086, -0.286), (0.070, -0.274),
    (0.045, -0.262), (0.005, -0.259), (-0.030, -0.257), (-0.049, -0.256), (-0.030, -0.240),
    (-0.010, -0.217), (0.005, -0.197), (0.016, -0.183), (0.026, -0.193), (0.046, -0.219),
    (0.068, -0.241), (0.090, -0.258), (0.104, -0.268), (0.103, -0.276), (0.090, -0.282),
    (0.078, -0.275), (0.058, -0.262), (0.020, -0.260), (-0.020, -0.258), (-0.045, -0.256),
]

xz_mpc = [
    (-0.040, -0.281), (-0.028, -0.260), (-0.016, -0.232), (-0.008, -0.205), (-0.002, -0.208),
    (0.008, -0.232), (0.018, -0.256), (0.028, -0.276), (0.015, -0.279), (-0.010, -0.280),
    (-0.038, -0.281), (-0.026, -0.258), (-0.012, -0.225), (-0.003, -0.203), (0.002, -0.210),
    (0.014, -0.240), (0.026, -0.270), (0.027, -0.277), (0.000, -0.279), (-0.035, -0.280),
    (-0.022, -0.255), (-0.008, -0.222), (0.003, -0.205), (0.008, -0.192), (0.012, -0.205),
    (0.022, -0.235), (0.035, -0.260), (0.050, -0.276), (0.020, -0.278), (-0.015, -0.279),
    (-0.039, -0.281), (-0.027, -0.257), (-0.013, -0.228), (-0.006, -0.207), (0.000, -0.200),
    (0.004, -0.215), (0.016, -0.248), (0.029, -0.275), (0.005, -0.278), (-0.025, -0.280),
    (-0.040, -0.281), (-0.024, -0.254), (-0.010, -0.226), (-0.004, -0.212), (0.006, -0.236),
    (0.020, -0.262), (0.028, -0.277), (-0.005, -0.277), (-0.030, -0.279),
]

# ---------------------------------------------------------------- styling
sns.set_theme(style="whitegrid")
plt.rcParams["font.family"] = ["Liberation Serif", "DejaVu Serif"]
plt.rcParams["mathtext.fontset"] = "cm"
plt.rcParams["axes.edgecolor"] = "#3a3a3a"
plt.rcParams["axes.linewidth"] = 1.0
plt.rcParams["grid.color"] = "#cfcfcf"
plt.rcParams["grid.linewidth"] = 0.8

LABEL_SIZE = 12
TICK_SIZE = 12.5

fig = plt.figure(figsize=(6.45, 8.56), dpi=100)
W, H = 645.0, 856.0


def add_axes(left, top, right, bottom):
    return fig.add_axes([left / W, 1 - bottom / H, (right - left) / W, (bottom - top) / H])


ax_tq = add_axes(81, 68, 632, 196)
ax_sl = add_axes(81, 228, 632, 355)
ax_v = add_axes(81, 388, 632, 515)
ax_xz = add_axes(85, 572, 636, 806)


def draw(ax, pairs, color, lw=1.1, zorder=2):
    arr = np.asarray(pairs, dtype=float)
    sns.lineplot(x=arr[:, 0], y=arr[:, 1], ax=ax, color=color, linewidth=lw, sort=False,
                 estimator=None, legend=False, zorder=zorder)


def math_fmt(decimals):
    def f(v, _):
        if abs(v) < 1e-12:
            v = 0.0
        return r"$%s$" % (f"{v:.{decimals}f}")
    return FuncFormatter(f)


def style_axes(ax):
    ax.grid(True, color="#cfcfcf", linewidth=0.8)
    for s in ax.spines.values():
        s.set_visible(True)
        s.set_color("#3a3a3a")
        s.set_linewidth(1.0)
    ax.tick_params(axis="both", which="both", direction="out", length=4, width=0.8,
                   color="#b5b5b5", labelsize=TICK_SIZE, pad=3, labelcolor="black")
    ax.set_axisbelow(True)


time_ticks = [0.0, 0.2, 0.4, 0.6, 0.8, 1.0, 1.2, 1.4, 1.6, 1.8, 2.0]

# --- torque
for a, b in e2e_over_limit:
    ax_tq.axvspan(a, b, color="#5050ff", alpha=0.35, lw=0, zorder=1)
for a, b in n3po_over_limit:
    ax_tq.axvspan(a, b, color="#ffb060", alpha=0.4, lw=0, zorder=1)
draw(ax_tq, torque_e2e, C_E2E)
draw(ax_tq, torque_n3po, C_N3PO)
draw(ax_tq, torque_ours, C_OURS)
draw(ax_tq, torque_mpc, C_MPC)
for lim in (torque_limit, -torque_limit):
    ax_tq.axhline(lim, color=C_LIMIT, lw=1.4, dashes=(6, 3), zorder=3)
ax_tq.set_xlim(-0.1, 2.0)
ax_tq.set_ylim(-20, 25)
ax_tq.yaxis.set_major_locator(FixedLocator([-15, 0, 15]))
ax_tq.yaxis.set_major_formatter(math_fmt(0))
ax_tq.xaxis.set_major_locator(FixedLocator(time_ticks))
ax_tq.set_xticklabels([])
ax_tq.set_ylabel("Torque (Nm)", fontsize=LABEL_SIZE)

# --- foot slip
draw(ax_sl, slip_e2e, C_E2E, lw=1.0)
draw(ax_sl, slip_n3po, C_N3PO, lw=1.1)
draw(ax_sl, slip_mpc, C_MPC, lw=2.6, zorder=4)
ax_sl.set_xlim(-0.1, 2.0)
ax_sl.set_ylim(-20, 5)
ax_sl.yaxis.set_major_locator(FixedLocator([-20, -10, 0]))
ax_sl.yaxis.set_major_formatter(math_fmt(0))
ax_sl.xaxis.set_major_locator(FixedLocator(time_ticks))
ax_sl.set_xticklabels([])
ax_sl.set_ylabel("Foot Slip", fontsize=LABEL_SIZE)

# --- forward velocity
ax_v.axhline(desired_velocity, color="black", lw=1.2, dashes=(6, 4), zorder=3)
for series, col in ((vel_e2e, C_E2E), (vel_n3po, C_N3PO), (vel_ours, C_OURS), (vel_mpc, C_MPC)):
    draw(ax_v, vel_start + series, col)
ax_v.set_xlim(-0.1, 2.0)
ax_v.set_ylim(-0.13, 1.055)
ax_v.yaxis.set_major_locator(FixedLocator([0, 0.5, 1]))
ax_v.yaxis.set_major_formatter(FuncFormatter(lambda v, _: {0: "$0$", 0.5: "$0.5$", 1: "$1$"}.get(v, "")))
ax_v.xaxis.set_major_locator(FixedLocator(time_ticks))
ax_v.xaxis.set_major_formatter(math_fmt(1))
ax_v.set_ylabel("Forward Velocity (m/s)", fontsize=LABEL_SIZE)
ax_v.set_xlabel("Time (s)", fontsize=LABEL_SIZE)

# --- foot trajectory
draw(ax_xz, xz_e2e, C_E2E, lw=1.0)
draw(ax_xz, xz_n3po, C_N3PO, lw=1.0)
draw(ax_xz, xz_ours, C_OURS, lw=1.0)
draw(ax_xz, xz_mpc, C_MPC, lw=1.0)
ax_xz.set_xlim(-0.2443, 0.1834)
ax_xz.set_ylim(-0.339, -0.014)
ax_xz.xaxis.set_major_locator(FixedLocator([-0.20, -0.15, -0.10, -0.05, 0.0, 0.05, 0.10, 0.15]))
ax_xz.yaxis.set_major_locator(FixedLocator([-0.30, -0.25, -0.20, -0.15, -0.10, -0.05]))
ax_xz.xaxis.set_major_formatter(math_fmt(2))
ax_xz.yaxis.set_major_formatter(math_fmt(2))
ax_xz.set_xlabel("X Position (m)", fontsize=LABEL_SIZE)
ax_xz.set_ylabel("Z Position (m)", fontsize=LABEL_SIZE)

for ax in (ax_tq, ax_sl, ax_v, ax_xz):
    style_axes(ax)
for ax in (ax_tq, ax_sl, ax_v):
    ax.yaxis.set_label_coords(-0.105, 0.5)
ax_v.xaxis.set_label_coords(0.5, -0.213)
ax_xz.yaxis.set_label_coords(-0.105, 0.5)
ax_xz.xaxis.set_label_coords(0.5, -0.128)

# --- legend
handles = [
    Line2D([], [], color=C_E2E, lw=1.5),
    Line2D([], [], color=C_MPC, lw=1.5),
    Line2D([], [], color=C_N3PO, lw=1.5),
    Line2D([], [], color="#ff5a5a", lw=1.3, dashes=(5, 3)),
    Line2D([], [], color=C_OURS, lw=1.5),
    Line2D([], [], color="#222222", lw=1.3, dashes=(5, 3)),
]
leg = fig.legend(handles, series_names, loc="upper center", bbox_to_anchor=(379.0 / W, 1 - 7 / H),
                 ncol=3, fontsize=9.5, frameon=True, fancybox=False, handlelength=2.5,
                 columnspacing=0.55, handletextpad=0.45, borderpad=0.6, labelspacing=0.5,
                 borderaxespad=0.0)
leg.get_frame().set_edgecolor("#cccccc")
leg.get_frame().set_linewidth(0.8)

fig.savefig("out.png", dpi=100)
